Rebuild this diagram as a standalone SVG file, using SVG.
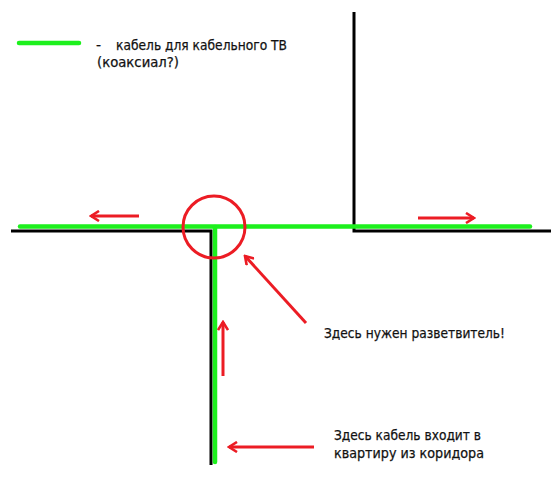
<svg xmlns="http://www.w3.org/2000/svg" width="557" height="480" viewBox="0 0 557 480">
<style>
.blk{stroke:#000;stroke-width:3;fill:none}
.grn{stroke:#1df01d;stroke-width:4.5;fill:none;stroke-linecap:round}
.red{stroke:#ec1c24;stroke-width:3;fill:none}
text{font-family:"DejaVu Sans","Liberation Sans",sans-serif;font-size:14px;fill:#111;stroke:#111;stroke-width:0.25}
</style>
<defs>
<marker id="ah" viewBox="0 0 12 12" refX="10" refY="6" markerWidth="12" markerHeight="12" markerUnits="userSpaceOnUse" orient="auto">
<path d="M2,1 L10,6 L2,11" stroke="#ec1c24" stroke-width="2.6" fill="none"/>
</marker>
</defs>
<g id="legend">
<line class="grn" x1="19" y1="43" x2="79" y2="43"/>
<text x="96" y="50">-</text>
<text x="116" y="50" textLength="171" lengthAdjust="spacingAndGlyphs">кабель для кабельного ТВ</text>
<text x="97" y="67" textLength="82" lengthAdjust="spacingAndGlyphs">(коаксиал?)</text>
</g>
<g id="walls">
<polyline class="blk" points="11,231 211,231 211,465"/>
<polyline class="blk" points="354,12 354,231 551,231"/>
</g>
<g id="cable">
<line class="grn" x1="20" y1="226.5" x2="530" y2="226.5"/>
<line class="grn" x1="215" y1="227" x2="215" y2="462"/>
</g>
<g id="splitter">
<circle class="red" cx="214" cy="227" r="31" stroke-width="4"/>
</g>
<g id="connectors">
<line class="red" x1="139" y1="216" x2="91" y2="216" marker-end="url(#ah)"/>
<line class="red" x1="418" y1="218" x2="474" y2="218" marker-end="url(#ah)"/>
<line class="red" x1="306" y1="323" x2="245" y2="256" marker-end="url(#ah)"/>
<line class="red" x1="223" y1="376" x2="223" y2="322" marker-end="url(#ah)"/>
<line class="red" x1="314" y1="447" x2="229" y2="447" marker-end="url(#ah)"/>
</g>
<g id="labels">
<text x="324" y="338" textLength="181" lengthAdjust="spacingAndGlyphs">Здесь нужен разветвитель!</text>
<text x="334" y="440" textLength="147" lengthAdjust="spacingAndGlyphs">Здесь кабель входит в</text>
<text x="334" y="458" textLength="150" lengthAdjust="spacingAndGlyphs">квартиру из коридора</text>
</g>
</svg>
